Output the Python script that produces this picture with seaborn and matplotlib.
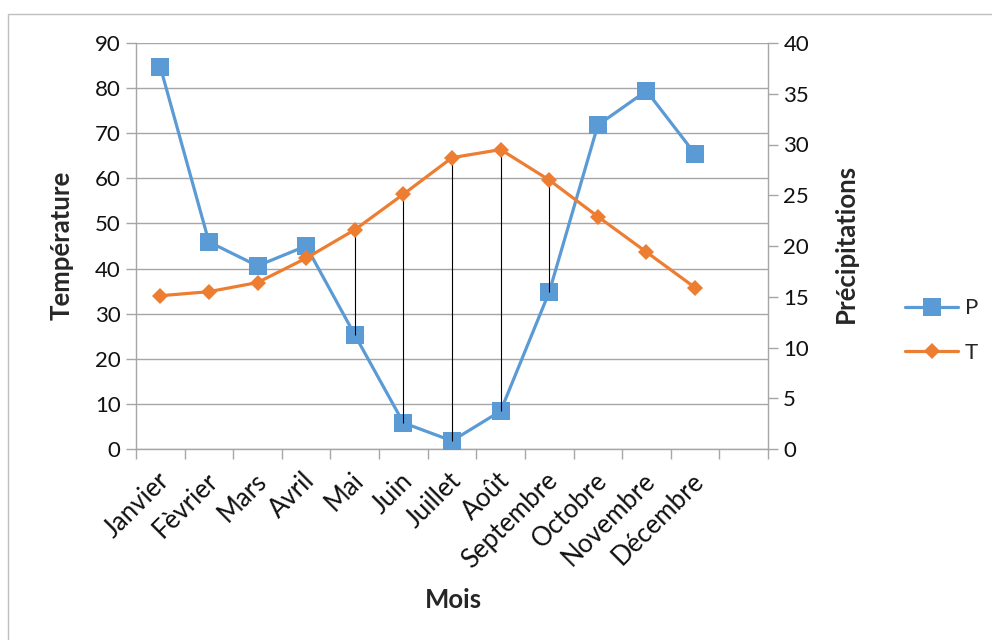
import matplotlib
matplotlib.use("Agg")
import matplotlib.pyplot as plt
import seaborn as sns
import pandas as pd
from matplotlib.lines import Line2D
from matplotlib.patches import Rectangle
from matplotlib.transforms import ScaledTranslation

# ---- data ----
mois = ["Janvier", "Fèvrier", "Mars", "Avril", "Mai", "Juin", "Juillet",
        "Août", "Septembre", "Octobre", "Novembre", "Décembre"]
P = [84.7, 45.9, 40.6, 45.0, 25.3, 5.8, 1.8, 8.4, 34.8, 71.8, 79.4, 65.4]
T = [15.1, 15.5, 16.4, 18.8, 21.6, 25.1, 28.7, 29.5, 26.5, 22.9, 19.4, 15.9]
drop_mois = ["Mai", "Juin", "Juillet", "Août", "Septembre"]
left_ticks = [0, 10, 20, 30, 40, 50, 60, 70, 80, 90]
right_ticks = [0, 5, 10, 15, 20, 25, 30, 35, 40]

df = pd.DataFrame({"mois": mois, "x": range(len(mois)), "P": P, "T": T})

BLUE = "#5B9BD5"
ORANGE = "#ED7D31"
GRID = "#A6A6A6"
FONT = ["Lato", "DejaVu Sans"]
TICK_FS = 16
MONTH_FS = 18.5
LABEL_FS = 18.5

sns.set_theme(style="white")
plt.rcParams["font.family"] = FONT

fig = plt.figure(figsize=(9.92, 6.4), dpi=100)
L, R, B, Tp = 136 / 992, 768 / 992, 1 - 449 / 640, 1 - 43 / 640
ax = fig.add_axes([L, B, R - L, Tp - B])
ax2 = ax.twinx()

# P on left axis
sns.lineplot(data=df, x="x", y="P", ax=ax, color=BLUE, lw=2.3, marker="s",
             markersize=13.5, markeredgewidth=0, zorder=3, legend=False)
# T on right axis
sns.lineplot(data=df, x="x", y="T", ax=ax2, color=ORANGE, lw=2.3, marker="D",
             markersize=8.6, markeredgewidth=0, zorder=3, legend=False)

ax.set_ylim(0, 90)
ax2.set_ylim(0, 40)
ax.set_xlim(-0.5, 12.5)

# drop lines from T to P
scale = 90 / 40
for m in drop_mois:
    i = mois.index(m)
    ax.vlines(i, P[i], T[i] * scale, color="black", lw=0.8, zorder=5)

# grid + spines
ax.set_yticks(left_ticks)
ax2.set_yticks(right_ticks)
ax.yaxis.grid(True, color=GRID, lw=1.0)
ax.set_axisbelow(True)
for a in (ax, ax2):
    for s in a.spines.values():
        s.set_visible(False)
ax.spines["left"].set_visible(True)
ax.spines["bottom"].set_visible(True)
ax2.spines["right"].set_visible(True)
for s in (ax.spines["left"], ax.spines["bottom"], ax2.spines["right"]):
    s.set_color(GRID)
    s.set_linewidth(1.0)

ax.tick_params(axis="y", which="major", direction="out", length=7, width=1.0,
               color=GRID, labelsize=TICK_FS, labelcolor="#111111", pad=4, left=True)
ax2.tick_params(axis="y", which="major", direction="out", length=7, width=1.0,
                color=GRID, labelsize=TICK_FS, labelcolor="#111111", pad=4, right=True)

# x category boundaries as major ticks, labels at minor positions
bounds = [i - 0.5 for i in range(len(mois) + 2)]
ax.set_xticks(bounds)
ax.set_xticklabels([])
ax.tick_params(axis="x", which="major", direction="out", length=7, width=1.0,
               color=GRID, bottom=True)
ax.set_xticks(range(len(mois)), minor=True)
ax.set_xticklabels(mois, minor=True, rotation=45, ha="right",
                   rotation_mode="anchor", va="center", fontsize=MONTH_FS,
                   color="#111111")
ax.tick_params(axis="x", which="minor", length=0, pad=20)
off = ScaledTranslation(5 / 100, 0, fig.dpi_scale_trans)
for lab in ax.get_xticklabels(minor=True):
    lab.set_transform(lab.get_transform() + off)

# axis labels
ax.set_ylabel("Température", fontsize=LABEL_FS, fontweight="bold", va="center")
ax.yaxis.set_label_coords((62 - 136) / 632, (449 - 245) / 406)
ax2.set_ylabel("Précipitations", fontsize=LABEL_FS, fontweight="bold", va="center",
               rotation=90)
ax2.yaxis.set_label_coords((846 - 136) / 632, (449 - 243) / 406)
ax.set_xlabel("Mois", fontsize=LABEL_FS, fontweight="bold", va="center")
ax.xaxis.set_label_coords((453 - 136) / 632, (449 - 600) / 406)

# legend
handles = [
    Line2D([], [], color=BLUE, lw=2.3, marker="s", markersize=13.5, markeredgewidth=0),
    Line2D([], [], color=ORANGE, lw=2.3, marker="D", markersize=8.6, markeredgewidth=0),
]
fig.legend(handles, ["P", "T"], loc="center left",
           bbox_to_anchor=(905 / 992, 1 - 330.5 / 640), frameon=False,
           fontsize=TICK_FS, handlelength=2.4, handletextpad=0.3,
           labelspacing=1.1, borderpad=0, borderaxespad=0)

# chart-area border
fig.patches.append(Rectangle((8 / 992, -0.2), 1.2, 1.2 - 14 / 640, fill=False,
                             edgecolor="#BFBFBF", lw=1.0,
                             transform=fig.transFigure, clip_on=False))

fig.savefig("out.png", dpi=100)
